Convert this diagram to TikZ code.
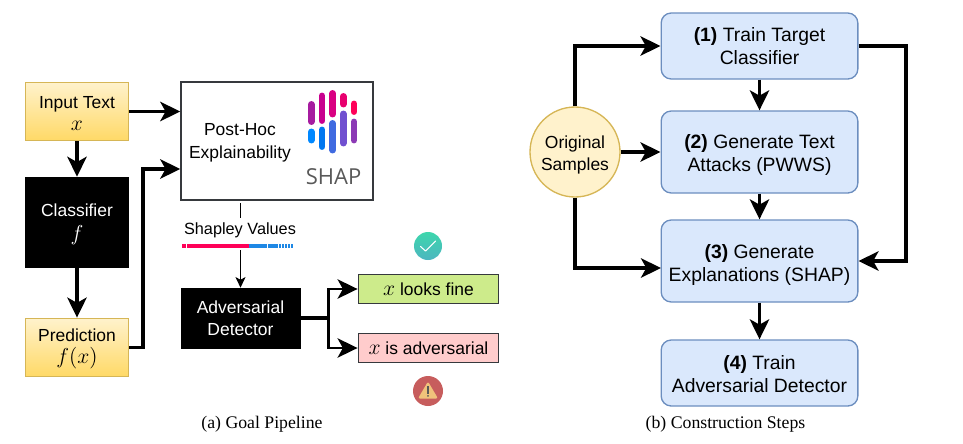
\documentclass[tikz,border=0pt]{standalone}
\usepackage{fontspec}
\usepackage{graphicx}
\setmainfont{Liberation Sans}
\newfontfamily\capfont{Liberation Serif}
\newfontfamily\logofont{Open Sans}
\usetikzlibrary{arrows.meta,calc,shadings}
\definecolor{ybd}{HTML}{D6B656}
\definecolor{ytop}{HTML}{FFF2CC}
\definecolor{ybot}{HTML}{FFD966}
\definecolor{bfill}{HTML}{DAE8FC}
\definecolor{bbd}{HTML}{6C8EBF}
\definecolor{gfill}{HTML}{CDEB8B}
\definecolor{rfill}{HTML}{FFCCCC}
\definecolor{bd}{HTML}{36393D}
\newcommand{\mx}[1]{\scalebox{1.35}{$#1$}}
\newcommand{\tdn}[1]{\rule{0pt}{#1pt}}
\tikzset{
  x=0.75pt,y=-0.75pt,
  ltxt/.style={font=\fontsize{13.1}{16.5}\selectfont,align=center,inner sep=0pt},
  rtxt/.style={font=\fontsize{14.5}{17}\selectfont,align=center,inner sep=0pt},
  ybox/.style={ltxt,draw=ybd,line width=0.9pt,top color=ytop,bottom color=ybot,minimum width=77.5pt,minimum height=44pt},
  kbox/.style={ltxt,draw=black,fill=black,text=white},
  stepbox/.style={rtxt,draw=bbd,line width=1pt,fill=bfill,rounded corners=7.5pt,minimum width=147.5pt},
  outbox/.style={ltxt,draw=bd,line width=0.9pt,minimum width=105.5pt,minimum height=22pt},
  conn/.style={line width=2.6pt,-{Stealth[length=15pt,width=14.5pt,inset=4pt]}},
  thinconn/.style={line width=1.1pt,-{Stealth[length=8pt,width=7.5pt,inset=2pt]}},
  logobar/.style={line width=5.2pt,line cap=round},
  captext/.style={font=\capfont\fontsize{13.3}{16}\selectfont,inner sep=0pt},
}
\begin{document}
\begin{tikzpicture}
\useasboundingbox (0,0) rectangle (963,443);
% left nodes
\node[ybox] (input) at (77,111.5) {\tdn{12}Input Text\\\mx{x}};
\node[kbox,minimum width=77.5pt,minimum height=67.5pt] (clf) at (77,222) {\tdn{13}Classifier\\[2pt]\mx{f}};
\node[ybox] (pred) at (77,347.5) {\tdn{12}Prediction\\\mx{f(x)}};
\node[draw=bd,line width=1.1pt,minimum width=144pt,minimum height=88.5pt,inner sep=0pt] (post) at (277,141) {};
\node[ltxt] (posttxt) at (240,141.5) {\tdn{11}Post-Hoc\\[0.6pt]Explainability};
% SHAP logo
\foreach \xx/\ya/\yb/\cc in {
 311.3/104.5/121.5/A61CA0, 322/96/120.5/C8008F, 332.7/93.5/114/D90082, 343.3/96.5/104/E8006F, 354/104/111.5/FF0059,
 311.3/132/140/0088FF, 322/130/146.5/0077F0, 332.7/123.5/150/3F6AE0, 343.3/114/143/7050D0, 354/122/140/8C3AB5}{
  \definecolor{barc}{HTML}{\cc}
  \draw[logobar,color=barc] (\xx,\ya) -- (\xx,\yb);
}
\node[inner sep=0pt,text=black!65,font=\logofont\fontsize{16.5}{18}\selectfont] (shaplogo) at (333.5,176.5) {SHAP};
% detector and outputs
\node[kbox,minimum width=89pt,minimum height=45pt] (det) at (240.5,318) {Adversarial\\Detector};
\node[outbox,fill=gfill] (fine) at (428.5,289) {\mx{x} looks fine};
\node[outbox,fill=rfill] (adv) at (428.5,348) {\mx{x} is adversarial};
% connector post -> det with label on top
\draw[thinconn,shorten <=2pt] (post.south -| det.north) -- (det.north);
\node[ltxt,fill=white,minimum width=84pt,minimum height=24pt,text depth=0pt] (shap) at (240,234) {};
\node[ltxt,font=\fontsize{12.2}{14}\selectfont] (shaptxt) at (240,230) {Shapley Values};
\draw[line width=3pt,color={rgb,255:red,255;green,0;blue,88}] (182,245.7) -- (249.3,245.7);
\draw[line width=3pt,color={rgb,255:red,30;green,136;blue,229}] (249.3,245.7) -- (293,245.7);
\foreach \xx in {186,267,278,281,284,287,290}{\draw[line width=0.4pt,white] (\xx,244) -- (\xx,247.5);}
% icons
\node[circle,minimum size=21pt,inner sep=0pt,top color={rgb,255:red,61;green,214;blue,172},bottom color={rgb,255:red,77;green,182;blue,192}] (okicon) at (428,246) {};
\draw[white,line width=0.8pt,line cap=round,line join=round] (420.5,246.5) -- (425.5,251) -- (435.5,241);
\node[circle,fill={rgb,255:red,199;green,93;blue,93},minimum size=22.5pt,inner sep=0pt] (warnicon) at (428,391) {};
\fill[color={rgb,255:red,240;green,194;blue,123},rounded corners=1.5pt] (428,381.5) -- (438,398.5) -- (418,398.5) -- cycle;
\fill[color=black!65] (427.2,386) rectangle (428.8,393.5);
\fill[color=black!65] (428,395.8) circle (1);
% left connectors
\draw[conn] (input.south) -- (clf.north);
\draw[conn] (clf.south) -- (pred.north);
\draw[conn] (input.east) -- (input.east -| post.west);
\coordinate (turn) at (143,169);
\draw[conn] (pred.east) -| (turn) -- (turn -| post.west);
\coordinate (fork) at (328.5,318);
\draw[conn,line width=1.9pt] (fork) |- (fine.west);
\draw[conn,line width=1.9pt] (fork) |- (adv.west);
\draw[line width=2.4pt] (det.east) -- (fork);
% right nodes
\node[stepbox,minimum height=49.5pt] (s1) at (759.5,46) {\textbf{(1)} Train Target\\Classifier};
\node[stepbox,minimum height=61.5pt] (s2) at (759.5,152) {\tdn{15}\textbf{(2)} Generate Text\\Attacks (PWWS)};
\node[stepbox,minimum height=61.5pt] (s3) at (759.5,261) {\tdn{16.5}\textbf{(3)} Generate\\Explanations (SHAP)};
\node[stepbox,minimum height=49.5pt] (s4) at (759.5,373) {\tdn{12}\textbf{(4)} Train\\Adversarial Detector};
\node[circle,draw=ybd,line width=1pt,fill=ytop,minimum size=67.5pt,inner sep=0pt,ltxt] (orig) at (575,152) {\tdn{14}Original\\Samples};
% right connectors
\draw[conn] (s1.south) -- (s2.north);
\draw[conn] (s2.south) -- (s3.north);
\draw[conn] (s3.south) -- (s4.north);
\draw[conn] (orig.north) |- (s1.west);
\draw[conn] (orig.east) -- (s2.west);
\coordinate (low) at (661,268);
\draw[conn] (orig.south) |- (low);
\coordinate (rgt) at (906,46);
\draw[conn] (s1.east) -- (rgt) |- (s3.east);
% captions
\node[captext] (capa) at (262,424) {(a) Goal Pipeline};
\node[captext] (capb) at (725.5,424) {(b) Construction Steps};
\end{tikzpicture}
\end{document}
